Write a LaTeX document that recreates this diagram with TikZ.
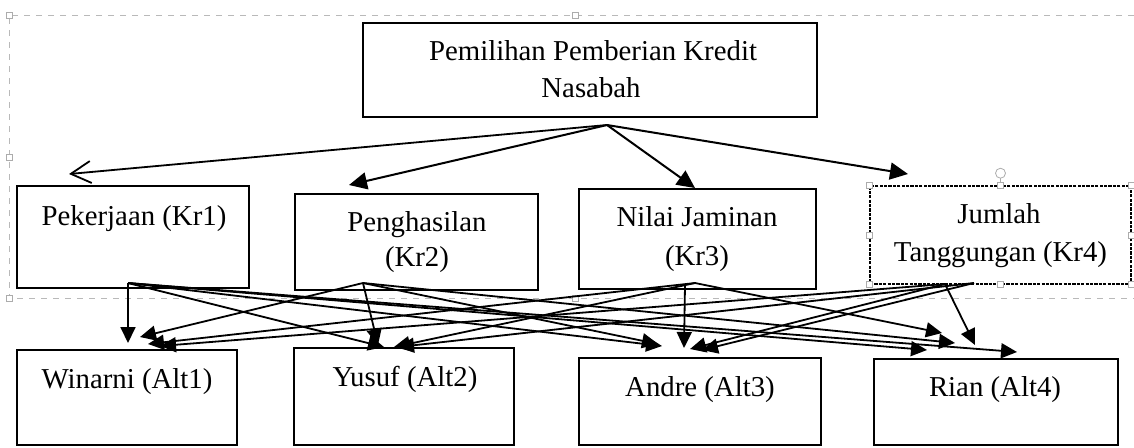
\documentclass[tikz,border=0pt]{standalone}
\usepackage{fontspec}
\setmainfont{Liberation Serif}
\usetikzlibrary{arrows.meta}
\begin{document}
\begin{tikzpicture}[x=0.5pt,y=-0.5pt,
  boxst/.style={draw,line width=1pt,inner sep=0pt},
  selbox/.style={draw,line width=0.8pt,dash pattern=on 1.6pt off 0.6pt,inner sep=0pt},
  lbl/.style={anchor=base,inner sep=0pt,font=\fontsize{14.4}{16}\selectfont},
  conn/.style={line width=1pt,-{Triangle[length=9pt,width=8.5pt]}},
  lconn/.style={line width=0.9pt,-{Triangle[length=8pt,width=7.5pt]}},
  oconn/.style={line width=0.9pt,-{Straight Barb[length=10pt,width=11pt]}},
  selline/.style={draw=gray!55,dashed,line width=0.35pt},
  handle/.style={draw=gray!65,fill=white,line width=0.35pt,minimum size=3pt,inner sep=0pt,rectangle}]
\useasboundingbox (0,0) rectangle (1134,447);
% selection frame (as in the reference)
\draw[selline] (1134,15) -- (9,15) -- (9,298) -- (1134,298);
\node[handle] (h1) at (9,15) {};
\node[handle] (h2) at (575,15) {};
\node[handle] (h3) at (9,157) {};
\node[handle] (h4) at (9,298) {};
\node[handle] (h5) at (575,298) {};
% boxes
\node[boxst,minimum width=227pt,minimum height=47pt] (top) at (590,70) {};
\node[boxst,minimum width=116pt,minimum height=51pt] (kr1) at (133,237) {};
\node[boxst,minimum width=121.5pt,minimum height=48pt] (kr2) at (416.5,242) {};
\node[boxst,minimum width=118.5pt,minimum height=50pt] (kr3) at (697.5,239) {};
\node[selbox,minimum width=130.5pt,minimum height=49pt] (kr4) at (1000.5,235) {};
\node[boxst,minimum width=110pt,minimum height=47.5pt] (alt1) at (127,397.5) {};
\node[boxst,minimum width=110pt,minimum height=48.5pt] (alt2) at (404,396.5) {};
\node[boxst,minimum width=121pt,minimum height=43.5pt] (alt3) at (700,401.5) {};
\node[boxst,minimum width=122pt,minimum height=43pt] (alt4) at (996,402) {};
% handles of the selected box
\draw[gray!65,line width=0.35pt] (kr4.north) -- ++(0,-12) coordinate (rot);
\node[draw=gray!65,fill=white,circle,minimum size=5pt,inner sep=0pt] (roth) at (rot) {};
\foreach \a [count=\i] in {north west,north,north east,west,east,south west,south,south east}
  \node[handle] (k4h\i) at (kr4.\a) {};
% labels
\node[lbl] (t1) at (593,60) {Pemilihan Pemberian Kredit};
\node[lbl] (t2) at (591,97) {Nasabah};
\node[lbl] (l1) at (134,225) {Pekerjaan (Kr1)};
\node[lbl] (l2a) at (417,231.5) {Penghasilan};
\node[lbl] (l2b) at (417,266.5) {(Kr2)};
\node[lbl] (l3a) at (697,226) {Nilai Jaminan};
\node[lbl] (l3b) at (697,265) {(Kr3)};
\node[lbl] (l4a) at (999,223) {Jumlah};
\node[lbl] (l4b) at (1000.5,261.5) {Tanggungan (Kr4)};
\node[lbl] (a1) at (127,388) {Winarni (Alt1)};
\node[lbl] (a2) at (405,386.5) {Yusuf (Alt2)};
\node[lbl] (a3) at (700,396.5) {Andre (Alt3)};
\node[lbl] (a4) at (995,396.5) {Rian (Alt4)};
% connector end points
\coordinate (topS) at (607,125);
\coordinate (k1s) at (128,283);
\coordinate (k2s) at (363,283);
\coordinate (k3s) at (685,285);
\coordinate (k3t) at (695,283);
\coordinate (k4s) at (945,284);
\coordinate (k4t) at (974,283);
\coordinate (in1) at (69,174);
\coordinate (in2) at (349,185);
\coordinate (in3) at (695,188);
\coordinate (in4) at (908,174);
% top level
\draw[oconn] (topS) -- (in1);
\draw[conn] (topS) -- (in2);
\draw[conn] (topS) -- (in3);
\draw[conn] (topS) -- (in4);
% criteria -> alternatives
\coordinate (e11) at (128,343);
\coordinate (e21) at (140,337);
\coordinate (e31) at (148,344);
\coordinate (e41) at (160,346);
\coordinate (e12) at (384,347);
\coordinate (e22) at (378,345);
\coordinate (e32) at (394,347);
\coordinate (e42) at (398,347);
\coordinate (e13) at (662,346);
\coordinate (e23) at (658,344);
\coordinate (e33) at (684,348);
\coordinate (e43) at (690,349);
\coordinate (e43b) at (702,350);
\coordinate (e14) at (1017,352);
\coordinate (e14b) at (927,350);
\coordinate (e24) at (955,343);
\coordinate (e34) at (942,333);
\coordinate (e44) at (975,345);
\draw[lconn] (k1s) -- (e11);
\draw[lconn] (k1s) -- (e12);
\draw[lconn] (k1s) -- (e13);
\draw[lconn] (k1s) -- (e14);
\draw[lconn] (k1s) -- (e14b);
\draw[lconn] (k2s) -- (e21);
\draw[lconn] (k2s) -- (e22);
\draw[lconn] (k2s) -- (e23);
\draw[lconn] (k2s) -- (e24);
\draw[lconn] (k3t) -- (e31);
\draw[lconn] (k3t) -- (e32);
\draw[lconn] (k3s) -- (e33);
\draw[lconn] (k3t) -- (e34);
\draw[lconn] (k4s) -- (e41);
\draw[lconn] (k4t) -- (e42);
\draw[lconn] (k4s) -- (e43);
\draw[lconn] (k4t) -- (e43b);
\draw[lconn] (k4s) -- (e44);
\end{tikzpicture}
\end{document}
